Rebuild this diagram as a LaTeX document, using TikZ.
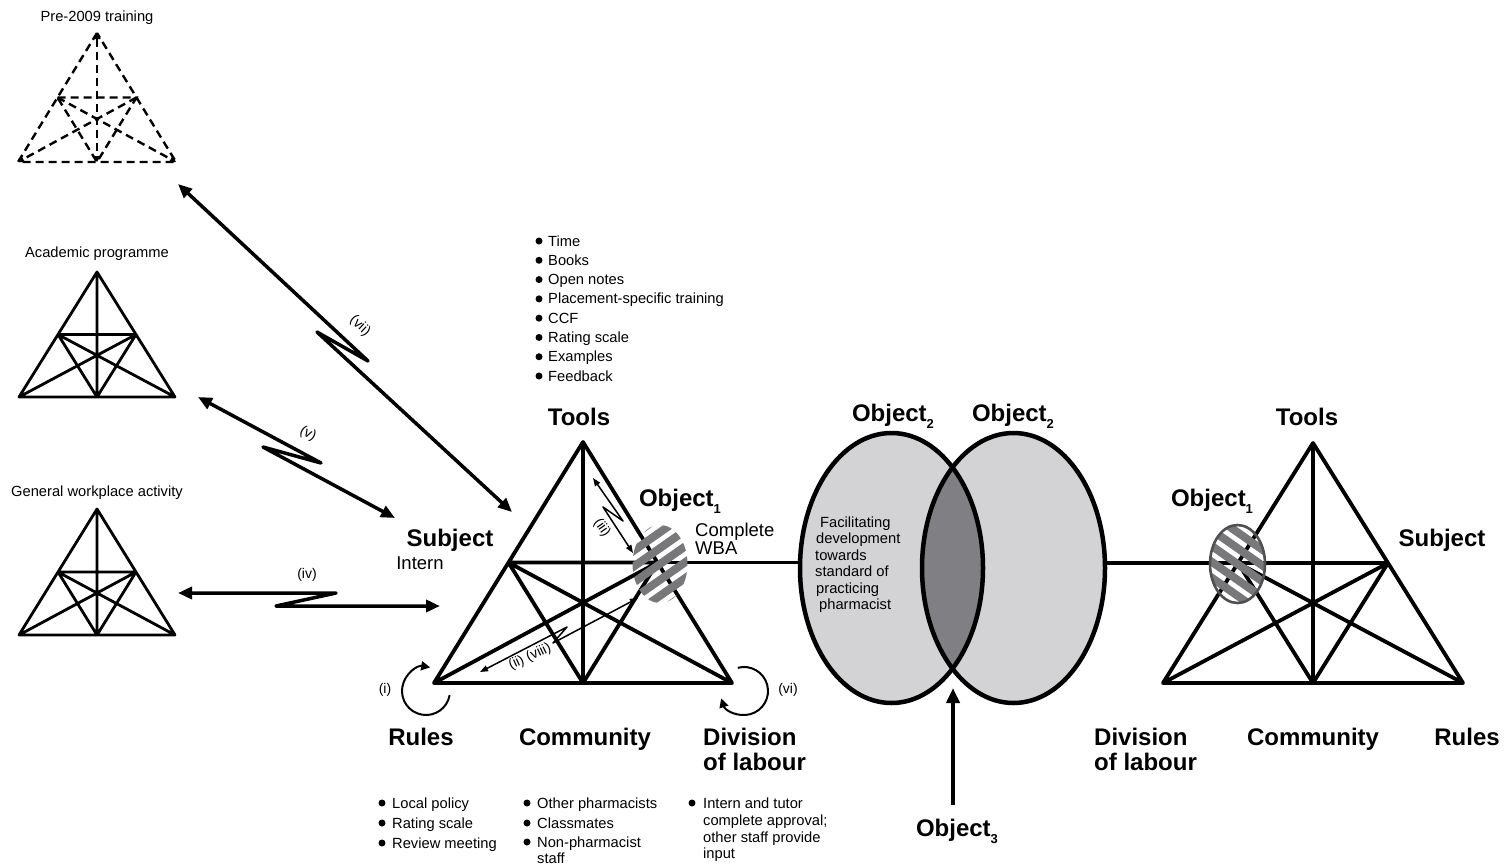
\documentclass[tikz,border=0pt]{standalone}
\usepackage{fontspec}
\setmainfont{Liberation Sans}
\usetikzlibrary{arrows.meta,calc}

\definecolor{vennlight}{HTML}{D3D3D5}
\definecolor{venndark}{HTML}{808084}
\definecolor{hatchgrey}{HTML}{78787B}
\definecolor{rimgrey}{HTML}{505052}

% small lowered index for the object labels
\newcommand{\lowidx}[1]{\raisebox{-0.3em}{\fontsize{13}{13}\selectfont #1}}

% vertices and side midpoints of an activity triangle:
% prefix, apex x, apex y, half width, height
\newcommand{\acttri}[5]{%
  \coordinate (#1-a) at (#2,#3);
  \coordinate (#1-b) at ({#2-#4},{#3-#5});
  \coordinate (#1-c) at ({#2+#4},{#3-#5});
  \coordinate (#1-l) at ($(#1-a)!0.5!(#1-b)$);
  \coordinate (#1-r) at ($(#1-a)!0.5!(#1-c)$);
  \coordinate (#1-m) at ($(#1-b)!0.5!(#1-c)$);
}
% outer triangle, inner triangle and the three medians
\newcommand{\drawtri}[2]{%
  \draw[#2] (#1-a) -- (#1-b) -- (#1-c) -- cycle
        (#1-l) -- (#1-r) -- (#1-m) -- cycle
        (#1-a) -- (#1-m) (#1-l) -- (#1-c) (#1-r) -- (#1-b);
}
% striped oval: centre x, centre y, stripe angle
\newcommand{\hatchoval}[3]{%
  \begin{scope}
    \clip (#1,#2) ellipse [x radius=27.5, y radius=39];
    \begin{scope}[shift={(#1,#2)}, rotate=#3]
      \foreach \k in {-5,...,5}
        \draw[hatchgrey, line width=8pt] (-70,\k*13) -- (70,\k*13);
    \end{scope}
  \end{scope}
}

\begin{document}
\begin{tikzpicture}[x=1pt, y=1pt,
  big/.style={font=\fontsize{24}{28}\selectfont\bfseries, inner sep=0pt},
  mid/.style={font=\fontsize{18.5}{21}\selectfont, inner sep=0pt},
  small/.style={font=\fontsize{14.7}{17}\selectfont, inner sep=0pt},
  lbl/.style={font=\fontsize{14}{16}\selectfont, inner sep=0pt},
  tri/.style={line width=3.8pt, line join=round, line cap=round},
  mini/.style={line width=2.8pt, line join=round, line cap=round},
  minidash/.style={line width=2.4pt, dash pattern=on 8pt off 5pt,
    -{Triangle[length=6pt,width=7pt]}},
  thick arrow/.style={line width=3.5pt, line join=round,
    {Triangle[length=14pt,width=12pt]}-{Triangle[length=14pt,width=12pt]}},
  thin arrow/.style={line width=1.5pt, line join=round,
    {Triangle[length=8pt,width=6pt]}-{Triangle[length=8pt,width=6pt]}},
  loop arrow/.style={line width=2pt, -{Triangle[length=9pt,width=9pt]}},
  bulletdot/.style={circle, fill=black, inner sep=0pt, minimum size=7pt}
]
\useasboundingbox (0,0) rectangle (1505,-865);

% ---------- the three earlier activity systems ----------
\acttri{pre}{97}{-33}{79}{129}
\acttri{acad}{97}{-272}{78}{125}
\acttri{gen}{97}{-509}{78}{126}

\draw[minidash, -] (pre-a) -- (pre-b) -- (pre-c) -- cycle
  (pre-l) -- (pre-r) -- (pre-m) -- cycle;
\draw[minidash, {Triangle[length=6pt,width=7pt]}-{Triangle[length=6pt,width=7pt]}] (pre-a) -- (pre-m);
\draw[minidash] (pre-l) -- (pre-c);
\draw[minidash] (pre-r) -- (pre-b);
\drawtri{acad}{mini}
\drawtri{gen}{mini}

\node[small, anchor=base] (pretitle) at (97,-21) {Pre-2009 training};
\node[small, anchor=base] (acadtitle) at (97,-257) {Academic programme};
\node[small, anchor=base] (gentitle) at (97,-496.5) {General workplace activity};

% ---------- the intern's activity system ----------
\acttri{m}{583}{-442}{149}{241}
\drawtri{m}{tri}
\coordinate (vennL) at (800,-562.5);
\draw[tri] (m-r) -- (vennL);
\hatchoval{660}{-564}{35}

% ---------- the tutor's activity system ----------
\acttri{r}{1313}{-443}{150}{240}
\drawtri{r}{tri}
\coordinate (vennR) at (1105,-563);
\draw[tri] (vennR) -- (r-l);
\hatchoval{1237.5}{-564}{-35}
\draw[rimgrey, line width=2.6pt] (1237.5,-564) ellipse [x radius=27.5, y radius=39];

% ---------- shared object ----------
\coordinate (o2a) at (891.5,-568);
\coordinate (o2b) at (1013.5,-568);
\fill[vennlight] (o2a) ellipse [x radius=91.5, y radius=135];
\fill[vennlight] (o2b) ellipse [x radius=91.5, y radius=135];
\begin{scope}
  \clip (o2a) ellipse [x radius=91.5, y radius=135];
  \fill[venndark] (o2b) ellipse [x radius=91.5, y radius=135];
\end{scope}
\draw[line width=4.5pt] (o2a) ellipse [x radius=91.5, y radius=135];
\draw[line width=4.5pt] (o2b) ellipse [x radius=91.5, y radius=135];

\node[big, anchor=base] (obj2a) at (893,-421.5) {Object\lowidx{2}};
\node[big, anchor=base] (obj2b) at (1013,-421.5) {Object\lowidx{2}};
\node[big, anchor=base] (obj3) at (957,-836.5) {Object\lowidx{3}};
\coordinate (obj3tail) at (953,-805);
\coordinate (obj3head) at (953,-688);
\draw[line width=4pt, -{Triangle[length=15pt,width=13pt]}] (obj3tail) -- (obj3head);

\foreach \t/\x/\y [count=\i] in {Facilitating/820/527, development/816/543.5,
  towards/815/560, standard of/815/576.5, practicing/816/593, pharmacist/819/609.5}
  \node[small, anchor=base west] (facil\i) at (\x,-\y) {\t};

% ---------- contradictions (lightning arrows) ----------
\coordinate (vii-s) at (178,-184);
\coordinate (vii-p) at (368,-361);
\coordinate (vii-q) at (317,-332);
\coordinate (vii-e) at (512,-512);
\draw[thick arrow] (vii-s) -- (vii-p) -- (vii-q) -- (vii-e);
\node[lbl, rotate=-43] (vii) at (360,-326) {(vii)};

\coordinate (v-s) at (198,-397);
\coordinate (v-p) at (321,-463);
\coordinate (v-q) at (263,-447);
\coordinate (v-e) at (395,-518);
\draw[thick arrow] (v-s) -- (v-p) -- (v-q) -- (v-e);
\node[lbl, rotate=-28] (v) at (308,-434) {(v)};

\coordinate (iv-s) at (178,-593);
\coordinate (iv-p) at (336,-593);
\coordinate (iv-q) at (276,-606);
\coordinate (iv-e) at (440,-606);
\draw[thick arrow] (iv-s) -- (iv-p) -- (iv-q) -- (iv-e);
\node[lbl] (iv) at (307,-575) {(iv)};

\coordinate (iii-s) at (593,-478);
\coordinate (iii-p) at (623,-521);
\coordinate (iii-q) at (603,-507);
\coordinate (iii-e) at (633,-553);
\draw[thin arrow] (iii-s) -- (iii-p) -- (iii-q) -- (iii-e);
\node[lbl, rotate=-55] (iii) at (602,-528) {(iii)};

\coordinate (ii-s) at (638,-598);
\coordinate (ii-p) at (553,-643);
\coordinate (ii-q) at (567,-627);
\coordinate (ii-e) at (480,-672);
\draw[thin arrow] (ii-s) -- (ii-p) -- (ii-q) -- (ii-e);
\node[lbl, rotate=25] (ii) at (530,-657) {(ii) (viii)};

% ---------- loops at rules and division of labour ----------
\coordinate (loopi) at (426,-691);
\draw[loop arrow] (loopi) ++(-10:24) arc [start angle=-10, end angle=-280, radius=24];
\node[lbl] (i) at (385,-690) {(i)};
\coordinate (loopvi) at (744,-691);
\draw[loop arrow] (loopvi) ++(105:24) arc [start angle=105, end angle=-162, radius=24];
\node[lbl] (vi) at (788,-690) {(vi)};

% ---------- labels of the intern's system ----------
\node[big, anchor=base] (tools) at (579,-425.5) {Tools};
\node[big, anchor=base] (subject) at (450,-546.5) {Subject};
\node[mid, anchor=base] (intern) at (420,-569) {Intern};
\node[big, anchor=base] (obj1) at (680,-506.5) {Object\lowidx{1}};
\node[mid, anchor=base west] (wba1) at (695,-536.5) {Complete};
\node[mid, anchor=base west] (wba2) at (695,-554.5) {WBA};
\node[big, anchor=base] (rules) at (421,-745.5) {Rules};
\node[big, anchor=base] (community) at (585,-745.5) {Community};
\node[big, anchor=base west] (division) at (703,-745.5) {Division};
\node[big, anchor=base west] (labour) at (703,-770.5) {of labour};

% ---------- labels of the tutor's system ----------
\node[big, anchor=base] (tools2) at (1307,-425.5) {Tools};
\node[big, anchor=base] (obj1r) at (1212,-506.5) {Object\lowidx{1}};
\node[big, anchor=base] (subject2) at (1442,-546.5) {Subject};
\node[big, anchor=base west] (division2) at (1094,-745.5) {Division};
\node[big, anchor=base west] (labour2) at (1094,-770.5) {of labour};
\node[big, anchor=base] (community2) at (1313,-745.5) {Community};
\node[big, anchor=base] (rules2) at (1467,-745.5) {Rules};

% ---------- bullet lists ----------
\foreach \t [count=\i from 0] in {Time, Books, Open notes, Placement-specific training,
  CCF, Rating scale, Examples, Feedback} {
  \node[bulletdot] (tb\i) at (539,{-241-19.29*\i}) {};
  \node[small, anchor=base west] (tt\i) at (548,{-246-19.29*\i}) {\t};
}

\foreach \t/\y [count=\i] in {Local policy/803, Rating scale/823, Review meeting/843} {
  \node[bulletdot] (rb\i) at (382,-\y) {};
  \node[small, anchor=base west] (rt\i) at (392,-\y-5) {\t};
}

\foreach \t/\y [count=\i] in {Other pharmacists/803, Classmates/823, Non-pharmacist/842} {
  \node[bulletdot] (cb\i) at (527,-\y) {};
  \node[small, anchor=base west] (ct\i) at (537,-\y-5) {\t};
}
\node[small, anchor=base west] (ct4) at (537,-863) {staff};

\node[bulletdot] (db1) at (692,-803) {};
\foreach \t/\y [count=\i] in {Intern and tutor/803, complete approval;/820,
  other staff provide/837, input/853}
  \node[small, anchor=base west] (dt\i) at (703,-\y-5) {\t};

\end{tikzpicture}
\end{document}
